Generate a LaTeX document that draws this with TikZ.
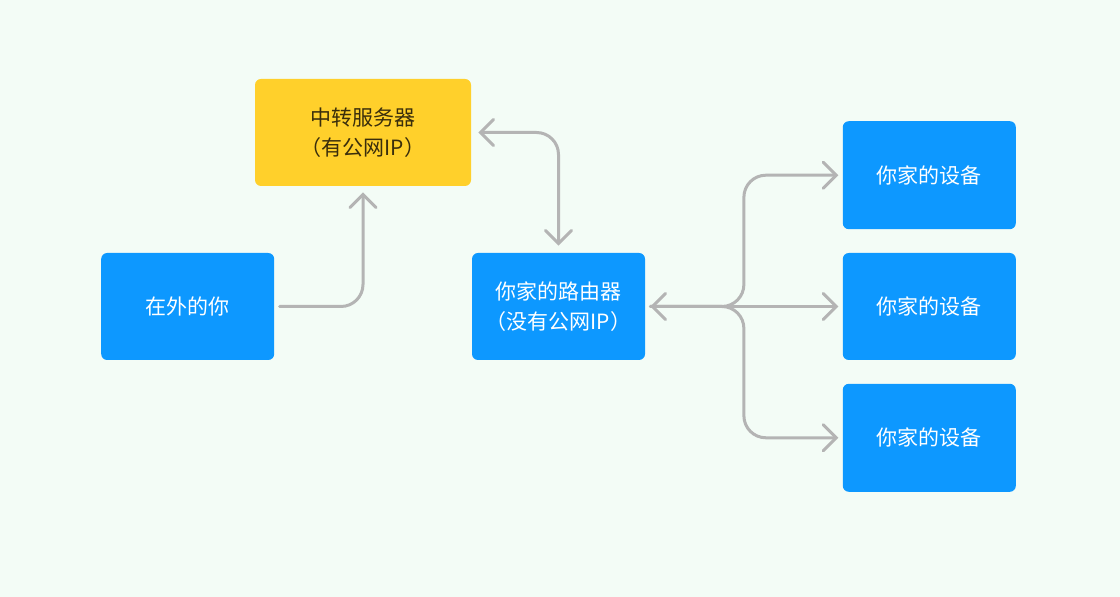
\documentclass[tikz,border=0pt]{standalone}
\usepackage{fontspec}
\setmainfont{Noto Sans CJK SC}
\usepackage{tikz}
\usetikzlibrary{positioning}
\usetikzlibrary{arrows.meta}
\usetikzlibrary{calc}
\definecolor{bgmint}{HTML}{F3FCF6}
\definecolor{boxblue}{HTML}{0D98FF}
\definecolor{boxyellow}{HTML}{FFD02B}
\definecolor{linegray}{HTML}{B4B4B4}
\definecolor{textdark}{HTML}{3A2E0C}
\tikzset{blue node/.style={rectangle,rounded corners=3pt,fill=boxblue,text=white,minimum width=86.5pt,minimum height=53.5pt,inner sep=0pt,align=center,font=\fontsize{10.5}{15}\selectfont},
yellow node/.style={blue node,fill=boxyellow,text=textdark,minimum width=108pt},
link/.style={draw=linegray,line width=1.5pt,line cap=round,line join=round,rounded corners=11pt},}

\begin{document}
\begin{tikzpicture}[x=0.5pt,y=-0.5pt,>={Straight Barb[length=6.5pt,width=13pt,line cap=round]},node distance=98.5pt]
	\useasboundingbox[fill=bgmint] (0,0) rectangle (1120,597);

	\node[blue node] (router) at (558.5,306.5) {你家的路由器\\（没有公网IP）};
	\node[blue node] (you) [left = of router] {在外的你};
	\node[yellow node] (relay) at (363,132.5) {中转服务器\\（有公网IP）};
	\node[blue node] (dev2) [right = of router] {你家的设备};
	\node[blue node, minimum height=54pt] (dev1) [above = 11.5pt of dev2] {你家的设备};
	\node[blue node, minimum height=54pt] (dev3) [below = 11.5pt of dev2] {你家的设备};

	\coordinate (fork) at ($(router.east)!0.5!(dev2.west)$);

	\draw[link,->,shorten <=2.5pt,shorten >=3pt] (you.east) -| (relay.south);
	\draw[link,<->,shorten <=3.5pt,shorten >=3.5pt] (relay.east) -| (router.north);
	\draw[link,<->,shorten <=2.5pt,shorten >=2pt] (router.east) -- (dev2.west);
	\draw[link,->,shorten <=2.5pt,shorten >=2pt] (router.east) -- (fork) |- (dev1.west);
	\draw[link,->,shorten <=2.5pt,shorten >=2pt] (router.east) -- (fork) |- (dev3.west);
\end{tikzpicture}
\end{document}
